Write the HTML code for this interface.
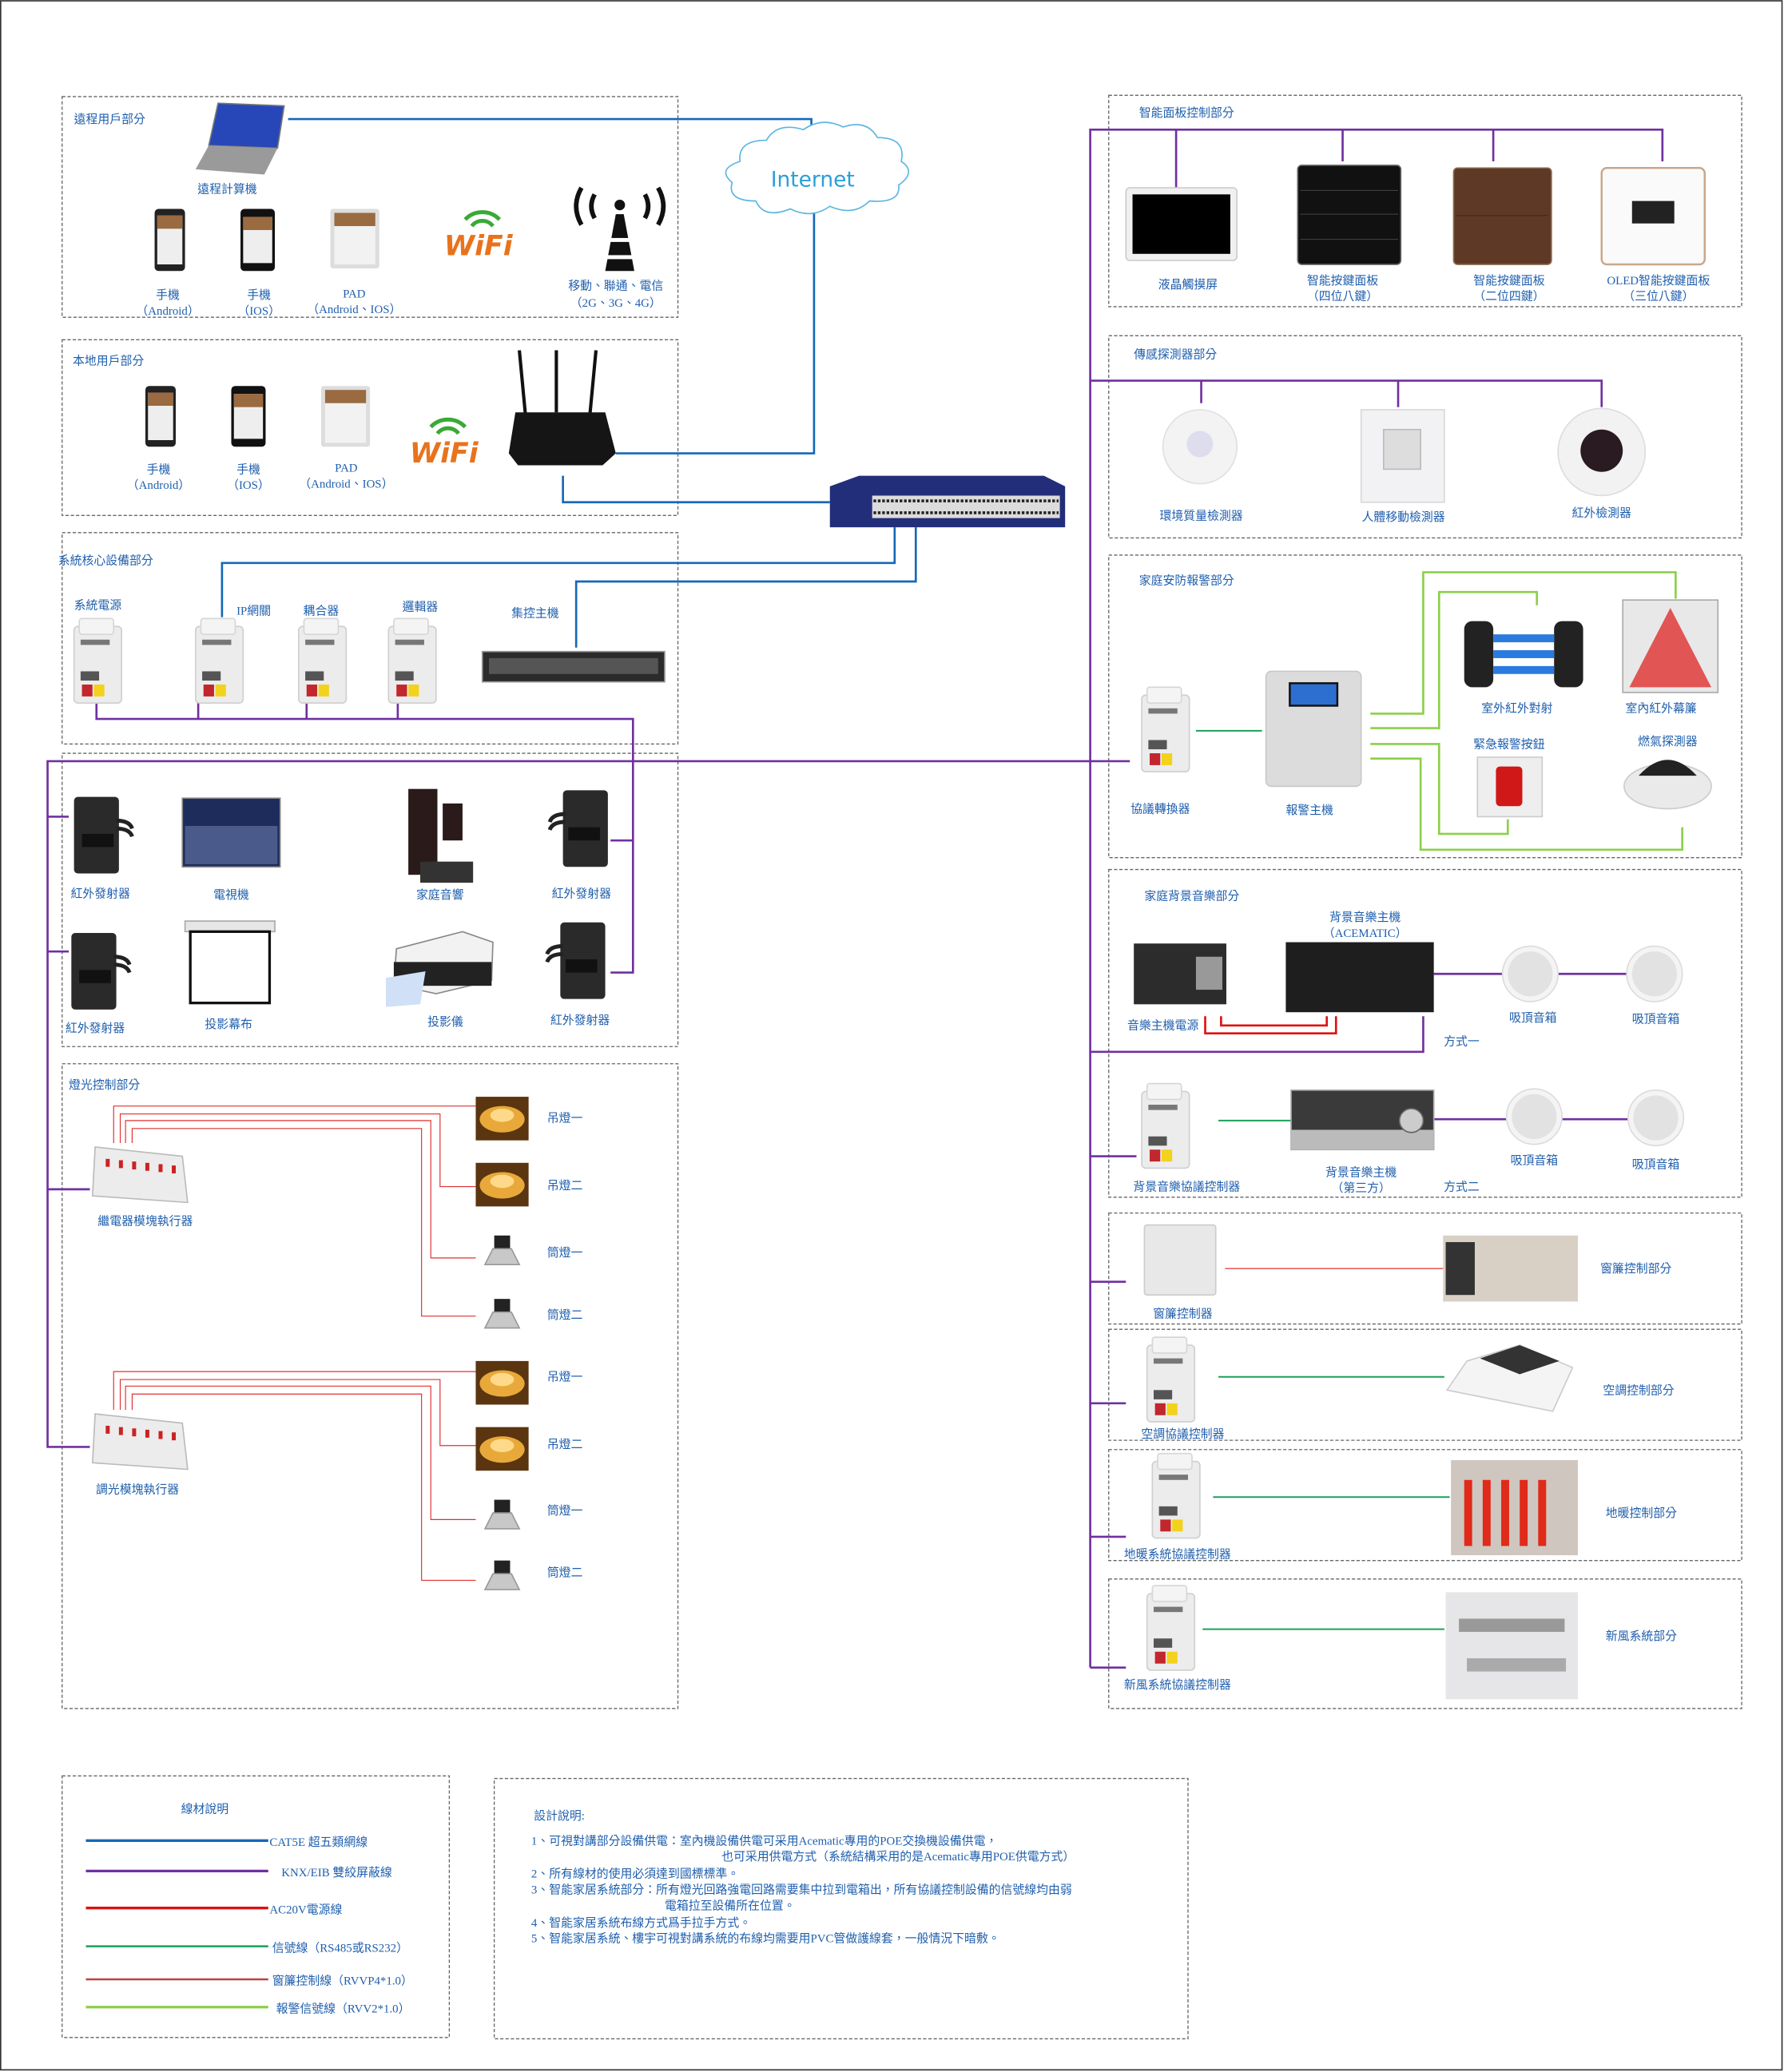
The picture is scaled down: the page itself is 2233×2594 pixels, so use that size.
<!DOCTYPE html>
<html><head><meta charset="utf-8">
<style>
html,body{margin:0;padding:0;background:#fff;}
svg{display:block;}
text{font-family:"Liberation Serif","Noto Sans CJK TC","Noto Sans CJK SC",serif;fill:#1f5fad;font-size:9px;}
.c{text-anchor:middle;}
</style></head><body>
<svg width="2233" height="2594" viewBox="0 0 1350 1568" xmlns="http://www.w3.org/2000/svg">
<defs>
<g id="knx">
<rect x="0" y="6" width="36" height="58" rx="3" fill="#ececec" stroke="#cfcfcf"/>
<rect x="4" y="0" width="26" height="12" rx="2" fill="#f4f4f4" stroke="#d6d6d6"/>
<rect x="5" y="16" width="22" height="4" fill="#777"/>
<rect x="5" y="40" width="14" height="7" fill="#555"/>
<rect x="6" y="50" width="8" height="9" fill="#c1272d"/>
<rect x="15" y="50" width="8" height="9" fill="#f2d21c"/>
</g>
<g id="ir">
<rect x="4" y="0" width="34" height="58" rx="3" fill="#2a2a2a"/>
<rect x="10" y="28" width="24" height="10" fill="#111"/>
<path d="M36 18 q10 0 12 6 M36 24 q10 0 12 6" stroke="#222" stroke-width="3" fill="none"/>
</g>
<g id="chand">
<rect x="0" y="0" width="40" height="33" fill="#5a3510"/>
<ellipse cx="20" cy="17" rx="17" ry="10" fill="#e8a93a"/>
<ellipse cx="20" cy="14" rx="9" ry="5" fill="#ffd98a"/>
</g>
<g id="spot">
<rect x="9" y="0" width="12" height="10" fill="#222"/>
<path d="M2 22 L8 10 L22 10 L28 22 Z" fill="#c8c8c8" stroke="#999"/>
</g>
<g id="spk">
<circle cx="0" cy="0" r="21" fill="#f4f4f4" stroke="#dcdcdc"/>
<circle cx="0" cy="0" r="17" fill="#e2e2e2"/>
</g>
</defs>

<rect x="0.5" y="0.5" width="1348" height="1566" fill="#fff" stroke="#333" stroke-width="1"/>

<!-- dashed boxes -->
<g fill="none" stroke="#666" stroke-width="0.8" stroke-dasharray="2.5,1.5">
<rect x="47" y="73" width="466" height="167"/>
<rect x="47" y="257" width="466" height="133"/>
<rect x="47" y="403" width="466" height="160"/>
<rect x="47" y="570" width="466" height="222"/>
<rect x="47" y="805" width="466" height="488"/>
<rect x="839" y="72" width="479" height="160"/>
<rect x="839" y="254" width="479" height="153"/>
<rect x="839" y="420" width="479" height="229"/>
<rect x="839" y="658" width="479" height="248"/>
<rect x="839" y="918" width="479" height="84"/>
<rect x="839" y="1006" width="479" height="84"/>
<rect x="839" y="1097" width="479" height="84"/>
<rect x="839" y="1195" width="479" height="98"/>
<rect x="47" y="1344" width="293" height="198"/>
<rect x="374" y="1346" width="525" height="197"/>
</g>

<!-- titles -->
<text x="56" y="93">遠程用戶部分</text>
<text x="55" y="276">本地用戶部分</text>
<text x="44" y="427">系統核心設備部分</text>
<text x="52" y="824">燈光控制部分</text>
<text x="862" y="88">智能面板控制部分</text>
<text x="858" y="271">傳感探測器部分</text>
<text x="862" y="442">家庭安防報警部分</text>
<text x="866" y="681">家庭背景音樂部分</text>

<!-- blue CAT5E -->
<g fill="none" stroke="#1568b8" stroke-width="1.6">
<polyline points="218,90 614,90 614,112"/>
<polyline points="616,160 616,343 466,343"/>
<polyline points="426,360 426,380 628,380"/>
<polyline points="677,399 677,426 168,426 168,467"/>
<polyline points="693,399 693,440 436,440 436,490"/>
</g>
<!-- cloud -->
<path d="M560 122 q-2-16 20-16 q8-14 28-8 q14-10 30-2 q18-6 26 8 q22 0 18 18 q12 8 -2 18 q2 14 -22 12 q-12 12 -30 4 q-14 10 -30 2 q-20 8 -26 -6 q-22 0 -18 -14 q-12 -10 6 -16 z" fill="#fff" stroke="#5bb6e0" stroke-width="1"/>
<text x="615" y="141" class="c" style="font-family:'DejaVu Sans','Liberation Sans',sans-serif;font-size:16px;fill:#2aa0d8">Internet</text>

<!-- purple KNX -->
<g fill="none" stroke="#7030a0" stroke-width="1.6">
<polyline points="73,530 73,544 479,544 479,736 462,736"/>
<line x1="150" y1="530" x2="150" y2="544"/>
<line x1="232" y1="530" x2="232" y2="544"/>
<line x1="301" y1="530" x2="301" y2="544"/>
<line x1="479" y1="636" x2="462" y2="636"/>
<polyline points="855,576 36,576 36,1095 68,1095"/>
<line x1="36" y1="618" x2="52" y2="618"/>
<line x1="36" y1="720" x2="52" y2="720"/>
<line x1="36" y1="900" x2="68" y2="900"/>
<polyline points="825,1262 825,98 1258,98 1258,122"/>
<line x1="890" y1="98" x2="890" y2="142"/>
<line x1="1016" y1="98" x2="1016" y2="122"/>
<line x1="1130" y1="98" x2="1130" y2="122"/>
<polyline points="825,288 1212,288 1212,308"/>
<line x1="909" y1="288" x2="909" y2="305"/>
<line x1="1058" y1="288" x2="1058" y2="308"/>
<polyline points="825,796 1077,796 1077,769"/>
<line x1="825" y1="875" x2="860" y2="875"/>
<line x1="825" y1="970" x2="852" y2="970"/>
<line x1="825" y1="1062" x2="852" y2="1062"/>
<line x1="825" y1="1163" x2="852" y2="1163"/>
<line x1="825" y1="1262" x2="852" y2="1262"/>
<line x1="1085" y1="737" x2="1137" y2="737"/>
<line x1="1179" y1="737" x2="1231" y2="737"/>
<line x1="1085" y1="847" x2="1140" y2="847"/>
<line x1="1182" y1="847" x2="1232" y2="847"/>
</g>
<!-- red AC power -->
<g fill="none" stroke="#e01010" stroke-width="1.6">
<polyline points="912,769 912,782 1011,782 1011,769"/>
<polyline points="924,769 924,776 1004,776 1004,769"/>
</g>
<!-- light green alarm -->
<g fill="none" stroke="#8ccf4a" stroke-width="1.6">
<polyline points="1037,540 1077,540 1077,433 1268,433 1268,453"/>
<polyline points="1037,551 1089,551 1089,448 1163,448 1163,458"/>
<polyline points="1037,563 1089,563 1089,631 1141,631 1141,620"/>
<polyline points="1037,574 1075,574 1075,643 1273,643 1273,626"/>
</g>
<!-- green signal -->
<g fill="none" stroke="#1aa05a" stroke-width="1.2">
<line x1="905" y1="553" x2="955" y2="553"/>
<line x1="922" y1="848" x2="977" y2="848"/>
<line x1="922" y1="1042" x2="1093" y2="1042"/>
<line x1="918" y1="1133" x2="1097" y2="1133"/>
<line x1="910" y1="1233" x2="1093" y2="1233"/>
</g>
<line x1="927" y1="960" x2="1092" y2="960" stroke="#e03030" stroke-width="0.8"/>
<!-- lighting red thin -->
<g fill="none" stroke="#e03030" stroke-width="0.7">
<polyline points="86,865 86,837 360,837"/>
<polyline points="91,865 91,843 333,843 333,898 360,898"/>
<polyline points="95,865 95,848 326,848 326,952 360,952"/>
<polyline points="100,865 100,854 319,854 319,996 360,996"/>
<polyline points="86,1067 86,1038 360,1038"/>
<polyline points="91,1067 91,1044 333,1044 333,1094 360,1094"/>
<polyline points="95,1067 95,1049 326,1049 326,1150 360,1150"/>
<polyline points="100,1067 100,1055 319,1055 319,1196 360,1196"/>
</g>

<!-- remote devices -->
<path d="M165 78 L215 80 L210 112 L158 110 Z" fill="#2747b8" stroke="#777"/>
<path d="M158 110 L210 112 L200 132 L148 128 Z" fill="#9a9a9a"/>
<text x="172" y="146" class="c">遠程計算機</text>
<rect x="117" y="158" width="23" height="47" rx="3" fill="#222"/><rect x="119" y="163" width="19" height="37" fill="#eee"/><rect x="119" y="163" width="19" height="10" fill="#9a6a40"/>
<rect x="182" y="158" width="26" height="47" rx="3" fill="#111"/><rect x="184" y="164" width="22" height="35" fill="#eee"/><rect x="184" y="164" width="22" height="10" fill="#9a6a40"/>
<rect x="250" y="158" width="37" height="45" rx="2" fill="#ddd"/><rect x="253" y="161" width="31" height="39" fill="#f2f2f2"/><rect x="253" y="161" width="31" height="10" fill="#9a6a40"/>
<text x="127" y="226" class="c">手機</text><text x="127" y="238" class="c">（Android）</text>
<text x="196" y="226" class="c">手機</text><text x="196" y="238" class="c">（IOS）</text>
<text x="268" y="225" class="c">PAD</text><text x="268" y="237" class="c">（Android、IOS）</text>
<g>
<path d="M352 166 a18 18 0 0 1 26 0" stroke="#3aa935" stroke-width="3" fill="none"/>
<path d="M357 171 a10 10 0 0 1 16 0" stroke="#3aa935" stroke-width="3" fill="none"/>
<text x="362" y="193" class="c" style="font-family:'DejaVu Sans','Liberation Sans',sans-serif;font-weight:bold;font-style:italic;font-size:21px;fill:#e8731c">WiFi</text>
</g>
<g>
<path d="M440 142 q-8 14 0 28 M450 147 q-5 9 0 18 M498 142 q8 14 0 28 M488 147 q5 9 0 18" stroke="#111" stroke-width="3.5" fill="none"/>
<circle cx="469" cy="155" r="4" fill="#111"/>
<path d="M466 162 L472 162 L480 205 L458 205 Z" fill="#111"/>
<rect x="460" y="180" width="18" height="3" fill="#fff"/><rect x="458" y="193" width="22" height="3" fill="#fff"/>
</g>
<text x="466" y="219" class="c">移動、聯通、電信</text><text x="466" y="232" class="c">（2G、3G、4G）</text>

<!-- local -->
<rect x="110" y="292" width="23" height="46" rx="3" fill="#222"/><rect x="112" y="297" width="19" height="36" fill="#eee"/><rect x="112" y="297" width="19" height="10" fill="#9a6a40"/>
<rect x="175" y="292" width="26" height="46" rx="3" fill="#111"/><rect x="177" y="298" width="22" height="34" fill="#eee"/><rect x="177" y="298" width="22" height="10" fill="#9a6a40"/>
<rect x="243" y="292" width="37" height="46" rx="2" fill="#ddd"/><rect x="246" y="295" width="31" height="40" fill="#f2f2f2"/><rect x="246" y="295" width="31" height="10" fill="#9a6a40"/>
<text x="120" y="358" class="c">手機</text><text x="120" y="370" class="c">（Android）</text>
<text x="188" y="358" class="c">手機</text><text x="188" y="370" class="c">（IOS）</text>
<text x="262" y="357" class="c">PAD</text><text x="262" y="369" class="c">（Android、IOS）</text>
<path d="M326 323 a18 18 0 0 1 26 0" stroke="#3aa935" stroke-width="3" fill="none"/>
<path d="M331 328 a10 10 0 0 1 16 0" stroke="#3aa935" stroke-width="3" fill="none"/>
<text x="336" y="350" class="c" style="font-family:'DejaVu Sans','Liberation Sans',sans-serif;font-weight:bold;font-style:italic;font-size:21px;fill:#e8731c">WiFi</text>
<g stroke="#111" stroke-width="2.5"><line x1="393" y1="265" x2="398" y2="318"/><line x1="421" y1="265" x2="421" y2="312"/><line x1="451" y1="265" x2="446" y2="318"/></g>
<path d="M390 312 L458 312 L466 343 L456 352 L392 352 L385 343 Z" fill="#151515"/>

<!-- switch -->
<path d="M628 368 L650 360 L790 360 L806 368 L806 399 L628 399 Z" fill="#232e7a"/>
<rect x="660" y="375" width="142" height="17" fill="#dcdcdc"/>
<g stroke="#222" stroke-width="2.2" stroke-dasharray="2,1.3"><line x1="661" y1="379" x2="801" y2="379"/><line x1="661" y1="388" x2="801" y2="388"/></g>

<!-- core -->
<text x="74" y="461" class="c">系統電源</text>
<text x="192" y="465" class="c">IP網關</text>
<text x="243" y="465" class="c">耦合器</text>
<text x="318" y="462" class="c">邏輯器</text>
<text x="405" y="467" class="c">集控主機</text>
<use href="#knx" x="56" y="468"/>
<use href="#knx" x="148" y="468"/>
<use href="#knx" x="226" y="468"/>
<use href="#knx" x="294" y="468"/>
<rect x="365" y="493" width="138" height="23" fill="#2b2b2b" stroke="#999"/>
<rect x="370" y="498" width="128" height="12" fill="#555"/>

<!-- AV -->
<use href="#ir" x="52" y="603"/>
<use href="#ir" x="50" y="706"/>
<g transform="translate(464,598) scale(-1,1)"><use href="#ir" x="0" y="0"/></g>
<g transform="translate(462,698) scale(-1,1)"><use href="#ir" x="0" y="0"/></g>
<rect x="138" y="604" width="74" height="52" fill="#1d2c5a" stroke="#888"/>
<rect x="140" y="625" width="70" height="29" fill="#4a5a8a"/>
<rect x="309" y="597" width="22" height="65" fill="#2a1a1a"/>
<rect x="335" y="608" width="15" height="28" fill="#2a1a1a"/>
<rect x="318" y="652" width="40" height="16" fill="#333"/>
<rect x="140" y="697" width="68" height="8" fill="#e6e6e6" stroke="#aaa"/>
<rect x="144" y="705" width="60" height="54" fill="#fff" stroke="#111" stroke-width="2"/>
<path d="M300 718 L350 705 L373 713 L372 742 L330 752 L298 745 Z" fill="#f2f2f2" stroke="#888"/>
<rect x="298" y="728" width="74" height="18" fill="#222"/>
<path d="M292 740 L322 735 L318 760 L292 762 Z" fill="#cfe0f7"/>
<text x="76" y="679" class="c">紅外發射器</text>
<text x="175" y="680" class="c">電視機</text>
<text x="333" y="680" class="c">家庭音響</text>
<text x="440" y="679" class="c">紅外發射器</text>
<text x="72" y="781" class="c">紅外發射器</text>
<text x="173" y="778" class="c">投影幕布</text>
<text x="337" y="776" class="c">投影儀</text>
<text x="439" y="775" class="c">紅外發射器</text>

<!-- lighting -->
<path d="M72 868 L138 875 L142 910 L70 905 Z" fill="#ececec" stroke="#bbb"/>
<g fill="#c22"><rect x="80" y="877" width="3" height="6"/><rect x="90" y="878" width="3" height="6"/><rect x="100" y="879" width="3" height="6"/><rect x="110" y="880" width="3" height="6"/><rect x="120" y="881" width="3" height="6"/><rect x="130" y="882" width="3" height="6"/></g>
<path d="M72 1070 L138 1077 L142 1112 L70 1107 Z" fill="#ececec" stroke="#bbb"/>
<g fill="#c22"><rect x="80" y="1079" width="3" height="6"/><rect x="90" y="1080" width="3" height="6"/><rect x="100" y="1081" width="3" height="6"/><rect x="110" y="1082" width="3" height="6"/><rect x="120" y="1083" width="3" height="6"/><rect x="130" y="1084" width="3" height="6"/></g>
<text x="110" y="927" class="c">繼電器模塊執行器</text>
<text x="104" y="1130" class="c">調光模塊執行器</text>
<use href="#chand" x="360" y="830"/><use href="#chand" x="360" y="880"/>
<use href="#spot" x="365" y="935"/><use href="#spot" x="365" y="983"/>
<use href="#chand" x="360" y="1030"/><use href="#chand" x="360" y="1080"/>
<use href="#spot" x="365" y="1135"/><use href="#spot" x="365" y="1181"/>
<text x="414" y="849">吊燈一</text><text x="414" y="900">吊燈二</text><text x="414" y="951">筒燈一</text><text x="414" y="998">筒燈二</text>
<text x="414" y="1045">吊燈一</text><text x="414" y="1096">吊燈二</text><text x="414" y="1146">筒燈一</text><text x="414" y="1193">筒燈二</text>

<!-- panels -->
<rect x="852" y="142" width="84" height="55" rx="3" fill="#f0f0f0" stroke="#ccc"/>
<rect x="857" y="147" width="74" height="45" fill="#000"/>
<rect x="982" y="125" width="78" height="75" rx="3" fill="#111" stroke="#666"/>
<g stroke="#444" stroke-width="0.6"><line x1="984" y1="144" x2="1058" y2="144"/><line x1="984" y1="162" x2="1058" y2="162"/><line x1="984" y1="181" x2="1058" y2="181"/></g>
<rect x="1100" y="127" width="74" height="73" rx="3" fill="#5e3a26" stroke="#8a6a50"/>
<line x1="1102" y1="163" x2="1172" y2="163" stroke="#3e2616" stroke-width="0.6"/>
<rect x="1212" y="127" width="78" height="73" rx="4" fill="#fafafa" stroke="#c8a88a" stroke-width="1.5"/>
<rect x="1235" y="152" width="32" height="17" fill="#222"/>
<text x="899" y="218" class="c">液晶觸摸屏</text>
<text x="1016" y="215" class="c">智能按鍵面板</text><text x="1016" y="227" class="c">（四位八鍵）</text>
<text x="1142" y="215" class="c">智能按鍵面板</text><text x="1142" y="227" class="c">（二位四鍵）</text>
<text x="1255" y="215" class="c">OLED智能按鍵面板</text><text x="1255" y="227" class="c">（三位八鍵）</text>

<!-- sensors -->
<circle cx="908" cy="338" r="28" fill="#f3f3f3" stroke="#e0e0e0"/><circle cx="908" cy="336" r="10" fill="#dde"/>
<rect x="1030" y="310" width="63" height="70" fill="#f2f2f5" stroke="#d8d8d8"/><rect x="1047" y="325" width="28" height="30" fill="#ddd" stroke="#bbb"/>
<circle cx="1212" cy="342" r="33" fill="#f2f2f2" stroke="#ddd"/><circle cx="1212" cy="341" r="16" fill="#2a1a22"/>
<text x="909" y="393" class="c">環境質量檢測器</text>
<text x="1062" y="394" class="c">人體移動檢測器</text>
<text x="1212" y="391" class="c">紅外檢測器</text>

<!-- security -->
<use href="#knx" x="864" y="520"/>
<rect x="958" y="508" width="72" height="87" rx="4" fill="#dcdcdc" stroke="#c8c8c8"/>
<rect x="976" y="517" width="36" height="17" fill="#2d6fd0" stroke="#111" stroke-width="1.5"/>
<rect x="1108" y="470" width="22" height="50" rx="6" fill="#222"/><rect x="1176" y="470" width="22" height="50" rx="6" fill="#222"/>
<g fill="#2a7ae0"><rect x="1130" y="480" width="46" height="6"/><rect x="1130" y="492" width="46" height="6"/><rect x="1130" y="504" width="46" height="6"/></g>
<rect x="1228" y="454" width="72" height="70" fill="#e8e8e8" stroke="#aaa"/>
<path d="M1264 460 L1295 520 L1233 520 Z" fill="#e03030" opacity="0.8"/>
<rect x="1118" y="573" width="49" height="45" fill="#eee" stroke="#ccc"/><rect x="1132" y="580" width="20" height="30" rx="3" fill="#d01818"/>
<ellipse cx="1262" cy="595" rx="33" ry="17" fill="#eaeaea" stroke="#ccc"/><path d="M1240 587 q22 -24 44 0 Z" fill="#222"/>
<text x="878" y="615" class="c">協議轉換器</text>
<text x="991" y="616" class="c">報警主機</text>
<text x="1148" y="539" class="c">室外紅外對射</text>
<text x="1257" y="539" class="c">室內紅外幕簾</text>
<text x="1142" y="566" class="c">緊急報警按鈕</text>
<text x="1262" y="564" class="c">燃氣探測器</text>

<!-- music -->
<rect x="858" y="714" width="70" height="46" fill="#2c2c2c"/><rect x="905" y="724" width="20" height="25" fill="#999"/>
<rect x="973" y="713" width="112" height="53" fill="#1e1e1e"/>
<rect x="977" y="825" width="108" height="45" fill="#3a3a3a" stroke="#aaa"/><rect x="977" y="855" width="108" height="15" fill="#bbb"/>
<circle cx="1068" cy="848" r="9" fill="#ccc" stroke="#666"/>
<use href="#spk" x="1158" y="737"/><use href="#spk" x="1252" y="737"/>
<use href="#spk" x="1161" y="845"/><use href="#spk" x="1253" y="846"/>
<use href="#knx" x="864" y="820"/>
<text x="880" y="779" class="c">音樂主機電源</text>
<text x="1033" y="697" class="c">背景音樂主機</text><text x="1033" y="709" class="c">（ACEMATIC）</text>
<text x="1160" y="773" class="c">吸頂音箱</text><text x="1253" y="774" class="c">吸頂音箱</text>
<text x="1106" y="791" class="c">方式一</text>
<text x="898" y="901" class="c">背景音樂協議控制器</text>
<text x="1030" y="890" class="c">背景音樂主機</text><text x="1030" y="902" class="c">（第三方）</text>
<text x="1161" y="881" class="c">吸頂音箱</text><text x="1253" y="884" class="c">吸頂音箱</text>
<text x="1106" y="901" class="c">方式二</text>

<!-- curtain / ac / floor / fresh -->
<rect x="866" y="927" width="54" height="53" rx="2" fill="#e8e8e8" stroke="#ccc"/>
<rect x="1092" y="935" width="102" height="50" fill="#d8d0c4"/><rect x="1094" y="940" width="22" height="40" fill="#333"/>
<text x="895" y="997" class="c">窗簾控制器</text>
<text x="1238" y="963" class="c">窗簾控制部分</text>
<use href="#knx" x="868" y="1012"/>
<path d="M1110 1030 L1150 1018 L1190 1035 L1175 1068 L1095 1052 Z" fill="#f4f4f4" stroke="#ccc"/>
<path d="M1120 1028 L1150 1018 L1180 1030 L1150 1040 Z" fill="#333"/>
<text x="895" y="1088" class="c">空調協議控制器</text>
<text x="1240" y="1055" class="c">空調控制部分</text>
<use href="#knx" x="872" y="1100"/>
<rect x="1098" y="1105" width="96" height="72" fill="#cfc6c0"/>
<g fill="#e02a1a"><rect x="1108" y="1120" width="6" height="50"/><rect x="1122" y="1120" width="6" height="50"/><rect x="1136" y="1120" width="6" height="50"/><rect x="1150" y="1120" width="6" height="50"/><rect x="1164" y="1120" width="6" height="50"/></g>
<text x="891" y="1179" class="c">地暖系統協議控制器</text>
<text x="1242" y="1148" class="c">地暖控制部分</text>
<use href="#knx" x="868" y="1200"/>
<rect x="1094" y="1205" width="100" height="81" fill="#e6e6e8"/>
<rect x="1104" y="1225" width="80" height="10" fill="#999"/><rect x="1110" y="1255" width="75" height="10" fill="#aaa"/>
<text x="891" y="1278" class="c">新風系統協議控制器</text>
<text x="1242" y="1241" class="c">新風系統部分</text>

<!-- legend -->
<text x="155" y="1372" class="c">線材說明</text>
<line x1="65" y1="1393" x2="203" y2="1393" stroke="#1568b8" stroke-width="2"/>
<line x1="65" y1="1416" x2="203" y2="1416" stroke="#7030a0" stroke-width="2"/>
<line x1="65" y1="1444" x2="203" y2="1444" stroke="#e01010" stroke-width="2"/>
<line x1="65" y1="1473" x2="203" y2="1473" stroke="#1aa05a" stroke-width="1.5"/>
<line x1="65" y1="1498" x2="203" y2="1498" stroke="#c04040" stroke-width="1.5"/>
<line x1="65" y1="1519" x2="203" y2="1519" stroke="#8ccf4a" stroke-width="2"/>
<text x="204" y="1397">CAT5E 超五類網線</text>
<text x="213" y="1420">KNX/EIB 雙絞屏蔽線</text>
<text x="204" y="1448">AC20V電源線</text>
<text x="206" y="1477">信號線（RS485或RS232）</text>
<text x="206" y="1502">窗簾控制線（RVVP4*1.0）</text>
<text x="209" y="1523">報警信號線（RVV2*1.0）</text>

<!-- design notes -->
<g style="font-size:8.5px">
<text x="404" y="1377">設計說明:</text>
<text x="402" y="1396">1、可視對講部分設備供電：室內機設備供電可采用Acematic專用的POE交換機設備供電，</text>
<text x="546" y="1408">也可采用供電方式（系統結構采用的是Acematic專用POE供電方式）</text>
<text x="402" y="1421">2、所有線材的使用必須達到國標標準。</text>
<text x="402" y="1433">3、智能家居系統部分：所有燈光回路強電回路需要集中拉到電箱出，所有協議控制設備的信號線均由弱</text>
<text x="503" y="1445">電箱拉至設備所在位置。</text>
<text x="402" y="1458">4、智能家居系統布線方式爲手拉手方式。</text>
<text x="402" y="1470">5、智能家居系統、樓宇可視對講系統的布線均需要用PVC管做護線套，一般情況下暗敷。</text>
</g>
</svg>
</body></html>
